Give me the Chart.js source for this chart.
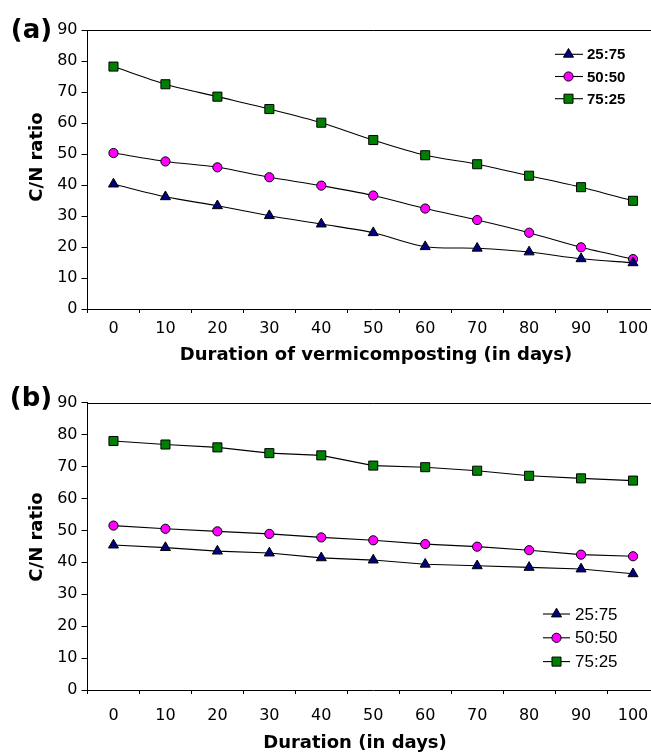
<!DOCTYPE html>
<html>
<head>
<meta charset="utf-8">
<script src="https://cdn.jsdelivr.net/npm/chart.js@4.4.1/dist/chart.umd.min.js"></script>
<style>
  html, body { margin: 0; padding: 0; background: #fff; overflow: hidden; width: 651px; height: 753px; }
  .panel { position: absolute; left: 0; width: 670px; }
  #panelA { top: 0; height: 372px; }
  #panelB { top: 372px; height: 390px; }
</style>
</head>
<body>
<div class="panel" id="panelA"><canvas id="chartA"></canvas></div>
<div class="panel" id="panelB"><canvas id="chartB"></canvas></div>
<script>
// x categories (days) and the three mixes
const days = ["0", "10", "20", "30", "40", "50", "60", "70", "80", "90", "100"];
const mixes = ["25:75", "50:50", "75:25"];
const yTicks = [0, 10, 20, 30, 40, 50, 60, 70, 80, 90];

// (a) C/N ratio during vermicomposting
const cnA_25_75 = [40.3, 36.2, 33.3, 30.1, 27.4, 24.6, 20.1, 19.6, 18.4, 16.2, 14.9];
const cnA_50_50 = [50.3, 47.6, 45.7, 42.5, 39.8, 36.6, 32.4, 28.7, 24.6, 19.9, 16.1];
const cnA_75_25 = [78.2, 72.5, 68.5, 64.5, 60.1, 54.5, 49.6, 46.7, 43.0, 39.3, 34.9];

// (b) C/N ratio over duration
const cnB_25_75 = [45.4, 44.6, 43.5, 42.9, 41.4, 40.7, 39.4, 38.9, 38.4, 37.9, 36.4];
const cnB_50_50 = [51.5, 50.5, 49.7, 48.9, 47.8, 46.9, 45.7, 44.9, 43.8, 42.4, 41.9];
const cnB_75_25 = [78.0, 76.9, 76.0, 74.2, 73.5, 70.3, 69.8, 68.7, 67.1, 66.3, 65.6];

Chart.defaults.font.family = '"DejaVu Sans", sans-serif';
Chart.defaults.color = "#000";

const markerStyles = [
    { pointStyle: "triangle", radius: 5.8, color: "#000080" },
    { pointStyle: "circle", radius: 4.6, color: "#ff00ff" },
    { pointStyle: "rect", radius: 6.4, color: "#008000" }
];

function drawMarker(ctx, style, r, x, y, fill) {
    ctx.beginPath();
    if (style === "triangle") {
        ctx.moveTo(x, y - r);
        ctx.lineTo(x + r * 0.866, y + r / 2);
        ctx.lineTo(x - r * 0.866, y + r / 2);
        ctx.closePath();
    } else if (style === "rect") {
        const s = r * Math.SQRT1_2;
        ctx.rect(x - s, y - s, 2 * s, 2 * s);
    } else {
        ctx.arc(x, y, r, 0, Math.PI * 2);
    }
    ctx.fillStyle = fill;
    ctx.fill();
    ctx.strokeStyle = "#000";
    ctx.lineWidth = 1;
    ctx.stroke();
}

// frame top line, panel tag, axis titles and the line+marker legend
const decor = {
    id: "decor",
    afterDraw(chart, args, o) {
        const ctx = chart.ctx;
        const area = chart.chartArea;
        ctx.save();
        ctx.strokeStyle = "#000";
        ctx.lineWidth = 1;
        ctx.beginPath();
        const ty = Math.round(area.top) + 0.5;
        ctx.moveTo(area.left, ty);
        ctx.lineTo(area.right, ty);
        ctx.stroke();

        ctx.fillStyle = "#000";
        ctx.textAlign = "center";
        ctx.textBaseline = "middle";
        ctx.font = 'bold 26px "DejaVu Sans"';
        ctx.fillText(o.tag, o.tagX, o.tagY);
        ctx.font = 'bold 18px "DejaVu Sans"';
        ctx.fillText(o.xTitle, o.xTitleX, o.xTitleY);
        ctx.save();
        ctx.translate(o.yTitleX, o.yTitleY);
        ctx.rotate(-Math.PI / 2);
        ctx.fillText(o.yTitle, 0, 0);
        ctx.restore();

        const lg = o.legend;
        ctx.font = lg.font;
        ctx.textAlign = "left";
        chart.data.datasets.forEach((ds, i) => {
            const y = lg.y0 + i * lg.dy;
            ctx.strokeStyle = "#000";
            ctx.lineWidth = 1.1;
            ctx.beginPath();
            ctx.moveTo(lg.x0, y);
            ctx.lineTo(lg.x1, y);
            ctx.stroke();
            drawMarker(ctx, ds.pointStyle, ds.pointRadius, lg.mx, y, ds.pointBackgroundColor);
            ctx.fillStyle = "#000";
            ctx.fillText(ds.label, lg.tx, y + 1);
        });
        ctx.restore();
    }
};

function buildChart(id, series, o) {
    return new Chart(document.getElementById(id), {
        type: "line",
        data: {
            labels: days,
            datasets: series.map((vals, i) => ({
                label: mixes[i],
                data: vals,
                borderColor: "#000",
                borderWidth: 1.1,
                tension: o.tension,
                pointStyle: markerStyles[i].pointStyle,
                pointRadius: markerStyles[i].radius,
                pointHoverRadius: markerStyles[i].radius,
                pointBackgroundColor: markerStyles[i].color,
                pointBorderColor: "#000",
                pointBorderWidth: 1
            }))
        },
        options: {
            responsive: true,
            maintainAspectRatio: false,
            animation: false,
            events: [],
            layout: { padding: { top: o.top, right: 11, left: 0, bottom: 0 } },
            plugins: {
                legend: { display: false },
                tooltip: { enabled: false },
                decor: o.decor
            },
            scales: {
                x: {
                    offset: true,
                    grid: { offset: true, drawOnChartArea: false, tickLength: 4, color: "#000" },
                    border: { display: true, color: "#000", width: 1 },
                    ticks: { padding: o.xPad, color: "#000", font: { size: 16 }, maxRotation: 0, autoSkip: false },
                    afterFit: s => { s.height = o.xHeight; }
                },
                y: {
                    min: yTicks[0],
                    max: yTicks[yTicks.length - 1],
                    ticks: { stepSize: yTicks[1] - yTicks[0], padding: 4, color: "#000", font: { size: 16 } },
                    grid: { drawOnChartArea: false, tickLength: 6, color: "#000" },
                    border: { display: true, color: "#000", width: 1 },
                    afterFit: s => { s.width = 87.5; }
                }
            }
        },
        plugins: [decor]
    });
}

buildChart("chartA", [cnA_25_75, cnA_50_50, cnA_75_25], {
    tension: 0.3, top: 30, xHeight: 63, xPad: 6.4,
    decor: {
        tag: "(a)", tagX: 31.5, tagY: 31,
        yTitle: "C/N ratio", yTitleX: 37.5, yTitleY: 157,
        xTitle: "Duration of vermicomposting (in days)", xTitleX: 376, xTitleY: 355,
        legend: { x0: 555, x1: 583, mx: 568.5, tx: 587, y0: 54.3, dy: 22.2, font: 'bold 15px "Liberation Sans"' }
    }
});

buildChart("chartB", [cnB_25_75, cnB_50_50, cnB_75_25], {
    tension: 0, top: 30.7, xHeight: 72, xPad: 12.4,
    decor: {
        tag: "(b)", tagX: 31, tagY: 27,
        yTitle: "C/N ratio", yTitleX: 37.5, yTitleY: 165,
        xTitle: "Duration (in days)", xTitleX: 355, xTitleY: 371.5,
        legend: { x0: 543, x1: 570, mx: 556.5, tx: 575, y0: 242, dy: 23.8, font: '17px "Liberation Sans"' }
    }
});
</script>
</body>
</html>
